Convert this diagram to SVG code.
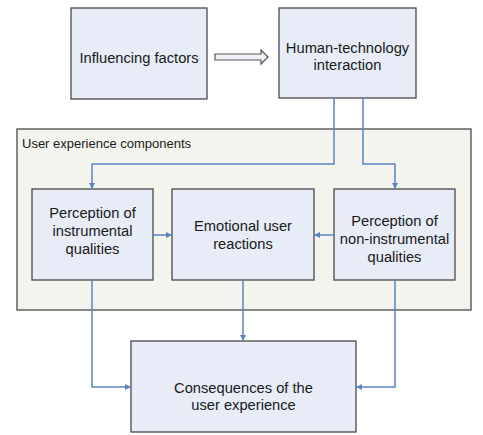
<svg xmlns="http://www.w3.org/2000/svg" width="483" height="435" viewBox="0 0 483 435">
<defs>
<style>
.box{fill:#e7ecf6;stroke:#4a4a4a;stroke-width:1.3}
.t{font-family:"Liberation Sans",Arial,sans-serif;font-size:14.7px;fill:#1a1a1a;text-anchor:middle}
.c{fill:none;stroke:#5b84c2;stroke-width:1.5}
</style>
<marker id="ah" viewBox="0 0 6 6" refX="6" refY="3" markerWidth="6" markerHeight="6" markerUnits="userSpaceOnUse" orient="auto">
<path d="M0,0 L6,3 L0,6 Z" fill="#5b84c2"/>
</marker>
</defs>
<rect width="483" height="435" fill="#ffffff"/>
<g id="container">
<rect x="17" y="129" width="454" height="181" fill="#f3f4ed" stroke="#4a4a4a" stroke-width="1.3"/>
<text x="22" y="148" style="font-family:'Liberation Sans',Arial,sans-serif;font-size:13px;fill:#1a1a1a">User experience components</text>
</g>
<g id="influencing">
<rect class="box" x="71" y="8" width="136" height="91"/>
<text class="t" x="139" y="63">Influencing factors</text>
</g>
<g id="hti">
<rect class="box" x="279" y="8" width="137" height="90"/>
<text class="t" x="347.5" y="53">Human-technology</text>
<text class="t" x="347.5" y="70">interaction</text>
</g>
<g id="instrumental">
<rect class="box" x="32" y="189" width="121" height="91"/>
<text class="t" x="92.5" y="218">Perception of</text>
<text class="t" x="92.5" y="236">instrumental</text>
<text class="t" x="92.5" y="254">qualities</text>
</g>
<g id="emotional">
<rect class="box" x="172" y="189" width="142" height="91"/>
<text class="t" x="243" y="231">Emotional user</text>
<text class="t" x="243" y="249">reactions</text>
</g>
<g id="noninstrumental">
<rect class="box" x="334" y="189" width="121" height="91"/>
<text class="t" x="394.5" y="226">Perception of</text>
<text class="t" x="394.5" y="244">non-instrumental</text>
<text class="t" x="394.5" y="262">qualities</text>
</g>
<g id="consequences">
<rect class="box" x="131" y="341" width="225" height="91"/>
<text class="t" x="243.5" y="393">Consequences of the</text>
<text class="t" x="243.5" y="410">user experience</text>
</g>
<g id="connectors">
<path d="M215,54 H261 V50 L268,57 L261,64 V60 H215 Z" fill="#eef1f8" stroke="#555" stroke-width="1.2" stroke-linejoin="miter"/>
<path class="c" d="M334,98 V164 H92 V189" marker-end="url(#ah)"/>
<path class="c" d="M363,98 V164 H395 V189" marker-end="url(#ah)"/>
<path class="c" d="M153,235 H172" marker-end="url(#ah)"/>
<path class="c" d="M334,235 H314" marker-end="url(#ah)"/>
<path class="c" d="M92,280 V387 H131" marker-end="url(#ah)"/>
<path class="c" d="M243,280 V341" marker-end="url(#ah)"/>
<path class="c" d="M395,280 V387 H356" marker-end="url(#ah)"/>
</g>
</svg>
